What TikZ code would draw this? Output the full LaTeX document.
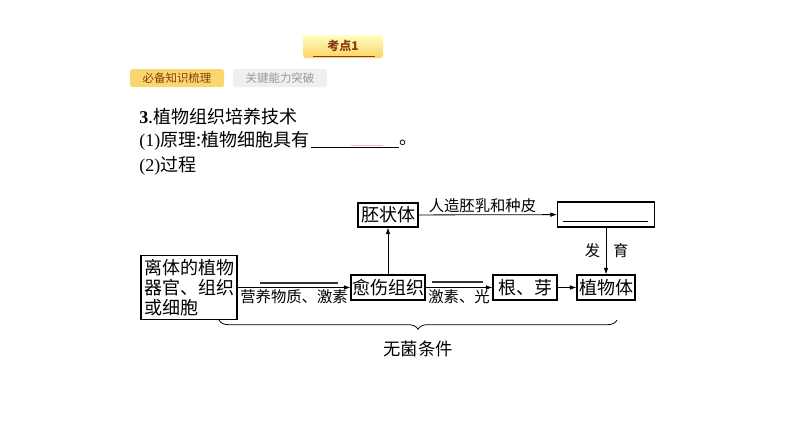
\documentclass[tikz,border=0pt]{standalone}
\usepackage{fontspec}
\setmainfont{Noto Sans CJK SC}
\newfontfamily\tnr{Liberation Serif}
\usetikzlibrary{arrows.meta}
\usetikzlibrary{decorations.pathreplacing}

\definecolor{tabgelb}{HTML}{FAD66E}
\definecolor{tabbraun}{HTML}{8A3A10}
\definecolor{tabgrau}{HTML}{EFEFEF}

\tikzset{
  kasten/.style={draw,line width=0.8pt,inner sep=0pt,font=\fontsize{13.5}{15}\selectfont},
  pfeil/.style={-{Latex[length=5pt,width=3.5pt]},line width=0.6pt},
  leer/.style={line width=1.5pt,draw=black!80},
  klein/.style={font=\fontsize{11.5}{13}\selectfont,inner sep=1pt},
  zeile/.style={anchor=west,inner sep=0pt,font=\fontsize{13.5}{15}\selectfont},
}

\begin{document}
\begin{tikzpicture}[x=0.75pt,y=-0.75pt]
      \useasboundingbox (0,0) rectangle (794,447);

      % tabs
      \shade[top color=yellow!25,bottom color=tabgelb!95!orange,rounded corners=2pt] (303,35) rectangle (383,58);
      \node (tab1) at (343,46) [font=\fontsize{9}{10}\selectfont\bfseries,text=tabbraun] {考点1};
      \draw[tabbraun,line width=0.6pt] (313,56) -- (375,56);
      \fill[tabgelb,rounded corners=2pt] (130,69) rectangle (224,87);
      \node (tab2) at (177,78) [font=\fontsize{8.6}{10}\selectfont,text=tabbraun] {必备知识梳理};
      \fill[tabgrau,rounded corners=2pt] (233,69) rectangle (327,87);
      \node (tab3) at (280,78) [font=\fontsize{8.6}{10}\selectfont,text=black!40] {关键能力突破};

      % text lines
      \node (zeile1) at (139,117) [zeile] {{\tnr\bfseries 3}.植物组织培养技术};
      \node (zeile2) at (139,141) [zeile] {{\tnr (1)}原理:植物细胞具有};
      \draw ([xshift=1pt]zeile2.east |- 0,147) coordinate (blank1) -- ++(88,0) coordinate (blank2);
      \draw[red!30,line width=0.5pt] ([xshift=30pt,yshift=1pt]blank1) -- ([xshift=-12pt,yshift=1pt]blank2);
      \node (punkt) at ([yshift=3pt]blank2) [zeile] {。};
      \node (zeile3) at (139,166) [zeile] {{\tnr (2)}过程};

      % boxes
      \node (embryo) at (388,215) [kasten,minimum width=45pt,minimum height=18pt] {胚状体};
      \node (seed) at (606,214.5) [kasten,minimum width=72.75pt,minimum height=18.75pt] {};
      \node (explant) at (189,287.5) [kasten,minimum width=72pt,minimum height=48pt,align=left,font=\fontsize{13.5}{15}\selectfont] {离体的植物\\器官、组织\\或细胞};
      \node (callus) at (388,287.5) [kasten,minimum width=55.5pt,minimum height=18.75pt] {愈伤组织};
      \node (rootbud) at (525,287.5) [kasten,minimum width=48pt,minimum height=18.75pt] {根、芽};
      \node (plant) at (606,287.5) [kasten,minimum width=43.5pt,minimum height=18.75pt] {植物体};

      \draw[line width=0.6pt] (563,221) -- (648,221);

      % arrows
      \draw[pfeil] (explant.east) -- (callus.west) node[klein,midway,below] {营养物质、激素};
      \draw[pfeil] (callus) -- (rootbud) node[klein,midway,below] {激素、光};
      \draw[pfeil] (rootbud) -- (plant);
      \draw[pfeil] (callus) -- (embryo);
      \draw[pfeil] (embryo) -- (seed) node[klein,midway,above,xshift=-4pt] {人造胚乳和种皮};
      \draw[pfeil] (seed) -- (plant) node[klein,midway,left=3pt] {发} node[klein,midway,right=4pt] {育};

      \draw[leer] (260,283) -- (338,283);
      \draw[leer] (432,282) -- (483,282);

      % brace
      \draw[line width=0.6pt,decorate,decoration={brace,mirror,amplitude=7pt}] (219,320) -- (617,320);
      \node (sterile) at (418,349) [font=\fontsize{13}{15}\selectfont] {无菌条件};
    \end{tikzpicture}
\end{document}
